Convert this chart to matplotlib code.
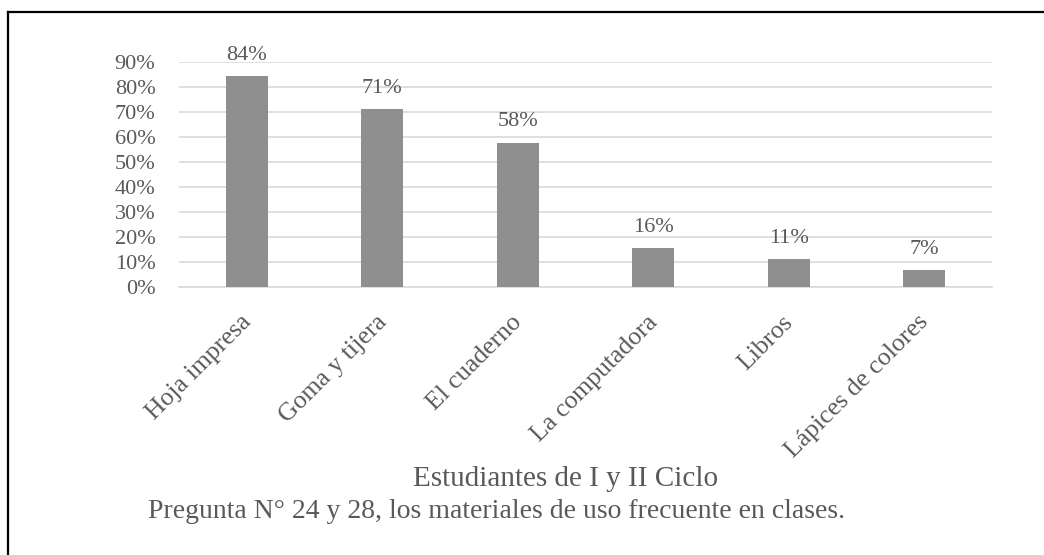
import matplotlib.pyplot as plt
from matplotlib.lines import Line2D
from matplotlib.transforms import ScaledTranslation

# data
categories = ["Hoja impresa", "Goma y tijera", "El cuaderno",
              "La computadora", "Libros", "Lápices de colores"]
values = [84.4, 71.1, 57.8, 15.6, 11.1, 6.7]
value_labels = ["84%", "71%", "58%", "16%", "11%", "7%"]
y_ticks = [0, 10, 20, 30, 40, 50, 60, 70, 80, 90]
y_tick_labels = ["%d%%" % t for t in y_ticks]

axis_title = "Estudiantes de I y II Ciclo"
caption = "Pregunta N° 24 y 28, los materiales de uso frecuente en clases."

text_col = "#595959"
grid_col = "#d9d9d9"
bar_col = "#8f8f8f"

plt.rcParams["font.family"] = ["Liberation Serif", "DejaVu Serif"]

W, H = 1044, 555
fig = plt.figure(figsize=(W / 100, H / 100), dpi=100)

# plot area in pixels: x 179..992, y 62..287 (top-down)
ax = fig.add_axes([179 / W, 1 - 287 / H, (992 - 179) / W, (287 - 62) / H])

x = list(range(len(categories)))
bars = ax.bar(x, values, width=0.31, color=bar_col, zorder=3)
ax.bar_label(bars, labels=value_labels, padding=8, fontsize=16, color=text_col)

ax.set_xlim(-0.5, len(categories) - 0.5)
ax.set_ylim(0, 90)
ax.set_yticks(y_ticks)
ax.set_yticklabels(y_tick_labels, fontsize=16, color=text_col)
ax.set_xticks(x)
ax.set_xticklabels([])

# slanted category labels, drawn as texts so they can be nudged
lbl_trans = ax.get_xaxis_transform() + ScaledTranslation(0.01, -0.32, fig.dpi_scale_trans)
for i, name in zip(x, categories):
    ax.text(i, 0, name, transform=lbl_trans, fontsize=18.5, color=text_col,
            rotation=45, ha="right", va="center", rotation_mode="anchor")

ax.tick_params(axis="y", length=0, pad=17)
ax.tick_params(axis="x", length=0)
ax.yaxis.grid(True, color=grid_col, linewidth=1.2, zorder=0)
for side in ["top", "right", "left"]:
    ax.spines[side].set_visible(False)
ax.spines["bottom"].set_color(grid_col)
ax.spines["bottom"].set_linewidth(1.2)

fig.text(566 / W, 1 - 479 / H, axis_title, ha="center", va="center",
         fontsize=21, color=text_col)
fig.text(497 / W, 1 - 512 / H, caption, ha="center", va="center",
         fontsize=20, color=text_col)

# frame: only top and left edges show in the reference
fig.add_artist(Line2D([8 / W, 1], [1 - 12 / H, 1 - 12 / H], color="black", linewidth=1.6))
fig.add_artist(Line2D([8 / W, 8 / W], [0, 1 - 12 / H], color="black", linewidth=1.6))

fig.savefig("out.png", dpi=100, facecolor="white")
